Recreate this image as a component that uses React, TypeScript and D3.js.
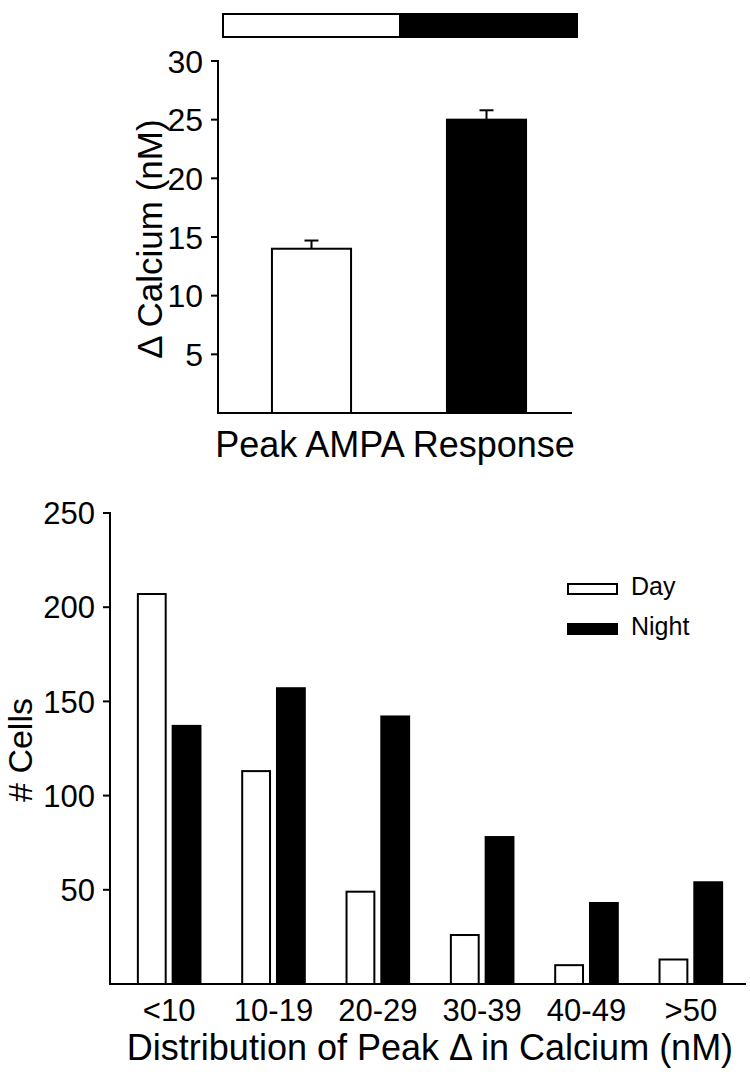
import React from 'react';
import * as d3 from 'd3';

// ---- Top panel data ----
const phases = ['Day', 'Night'];
const meanCalcium = [14, 25];
const semCalcium = [0.7, 0.8];
const topTicks = [5, 10, 15, 20, 25, 30];
const cycleHours = [
  [0, 12],
  [12, 24],
];

// ---- Bottom panel data ----
const bins = ['<10', '10-19', '20-29', '30-39', '40-49', '>50'];
const dayCounts = [207, 113, 49, 26, 10, 13];
const nightCounts = [137, 157, 142, 78, 43, 54];
const bottomTicks = [50, 100, 150, 200, 250];

const FONT = '"Liberation Sans", Arial, Helvetica, sans-serif';
const fills = ['#ffffff', '#000000'];

export default function App() {
  const yTop = d3.scaleLinear().domain([0, 30]).range([413, 61]);
  const xTop = d3
    .scaleBand<string>()
    .domain(phases)
    .range([224, 574])
    .paddingInner(0.548)
    .paddingOuter(0.274);
  const xCycle = d3.scaleLinear().domain([0, 24]).range([223, 577]);

  const yBot = d3.scaleLinear().domain([0, 250]).range([984, 513]);
  const xBot = d3
    .scaleBand<string>()
    .domain(bins)
    .range([117, 743])
    .paddingInner(0.4)
    .paddingOuter(0.2);
  const xSub = d3
    .scaleBand<string>()
    .domain(phases)
    .range([0, xBot.bandwidth()])
    .paddingInner(0.2);

  const series = [dayCounts, nightCounts];

  return (
    <svg
      width={750}
      height={1074}
      style={{ position: 'absolute', left: 0, top: 0, background: '#fff' }}
      fontFamily={FONT}
    >
      <rect x={0} y={0} width={750} height={1074} fill="#fff" />

      {/* ===== Top panel ===== */}
      {cycleHours.map(([a, b], i) => (
        <rect
          key={'cyc' + i}
          x={xCycle(a)}
          y={14}
          width={xCycle(b) - xCycle(a)}
          height={23}
          fill={fills[i]}
          stroke="#000"
          strokeWidth={2}
        />
      ))}

      {phases.map((p, i) => {
        const x = xTop(p)!;
        const w = xTop.bandwidth();
        const cx = x + w / 2;
        const yv = yTop(meanCalcium[i]);
        const ye = yTop(meanCalcium[i] + semCalcium[i]);
        return (
          <g key={'tb' + p}>
            <line x1={cx} x2={cx} y1={yv} y2={ye} stroke="#000" strokeWidth={2} />
            <line x1={cx - 7} x2={cx + 7} y1={ye} y2={ye} stroke="#000" strokeWidth={2} />
            <rect
              x={x}
              y={yv}
              width={w}
              height={yTop(0) - yv}
              fill={fills[i]}
              stroke="#000"
              strokeWidth={2}
            />
          </g>
        );
      })}

      <line x1={218} x2={218} y1={yTop(30) - 1} y2={yTop(0) + 1} stroke="#000" strokeWidth={2} />
      <line x1={217} x2={572} y1={yTop(0)} y2={yTop(0)} stroke="#000" strokeWidth={2} />
      {topTicks.map((t) => (
        <g key={'tt' + t}>
          <line x1={211} x2={218} y1={yTop(t)} y2={yTop(t)} stroke="#000" strokeWidth={2} />
          <text x={203} y={yTop(t)} dy="0.36em" textAnchor="end" fontSize={32} fill="#000">
            {t}
          </text>
        </g>
      ))}
      <text
        transform={`translate(162,239) rotate(-90)`}
        textAnchor="middle"
        fontSize={35}
        fill="#000"
      >
        Δ Calcium (nM)
      </text>
      <text x={395} y={457} textAnchor="middle" fontSize={36} fill="#000">
        Peak AMPA Response
      </text>

      {/* ===== Bottom panel ===== */}
      {bins.map((b, bi) => (
        <g key={'bg' + b} transform={`translate(${xBot(b)},0)`}>
          {phases.map((p, si) => {
            const v = series[si][bi];
            const y = yBot(v);
            return (
              <rect
                key={p}
                x={xSub(p)}
                y={y}
                width={xSub.bandwidth()}
                height={yBot(0) - y}
                fill={fills[si]}
                stroke="#000"
                strokeWidth={2}
              />
            );
          })}
        </g>
      ))}

      <line x1={110} x2={110} y1={yBot(250) - 1} y2={yBot(0) + 1} stroke="#000" strokeWidth={2} />
      <line x1={109} x2={746} y1={yBot(0)} y2={yBot(0)} stroke="#000" strokeWidth={2} />
      {bottomTicks.map((t) => (
        <g key={'bt' + t}>
          <line x1={103} x2={110} y1={yBot(t)} y2={yBot(t)} stroke="#000" strokeWidth={2} />
          <text x={95} y={yBot(t)} dy="0.36em" textAnchor="end" fontSize={31} fill="#000">
            {t}
          </text>
        </g>
      ))}
      {bins.map((b) => (
        <text
          key={'xl' + b}
          x={xBot(b)! + xBot.bandwidth() / 2}
          y={1021}
          textAnchor="middle"
          fontSize={31}
          fill="#000"
        >
          {b}
        </text>
      ))}
      <text
        transform={`translate(32,750) rotate(-90)`}
        textAnchor="middle"
        fontSize={34}
        fill="#000"
      >
        # Cells
      </text>
      <text x={430} y={1060} textAnchor="middle" fontSize={36} fill="#000">
        Distribution of Peak Δ in Calcium (nM)
      </text>

      {phases.map((p, i) => (
        <g key={'lg' + p} transform={`translate(568,${584 + i * 40})`}>
          <rect x={0} y={0} width={49} height={10} fill={fills[i]} stroke="#000" strokeWidth={2} />
          <text x={63} y={11} fontSize={25} fill="#000">
            {p}
          </text>
        </g>
      ))}
    </svg>
  );
}
